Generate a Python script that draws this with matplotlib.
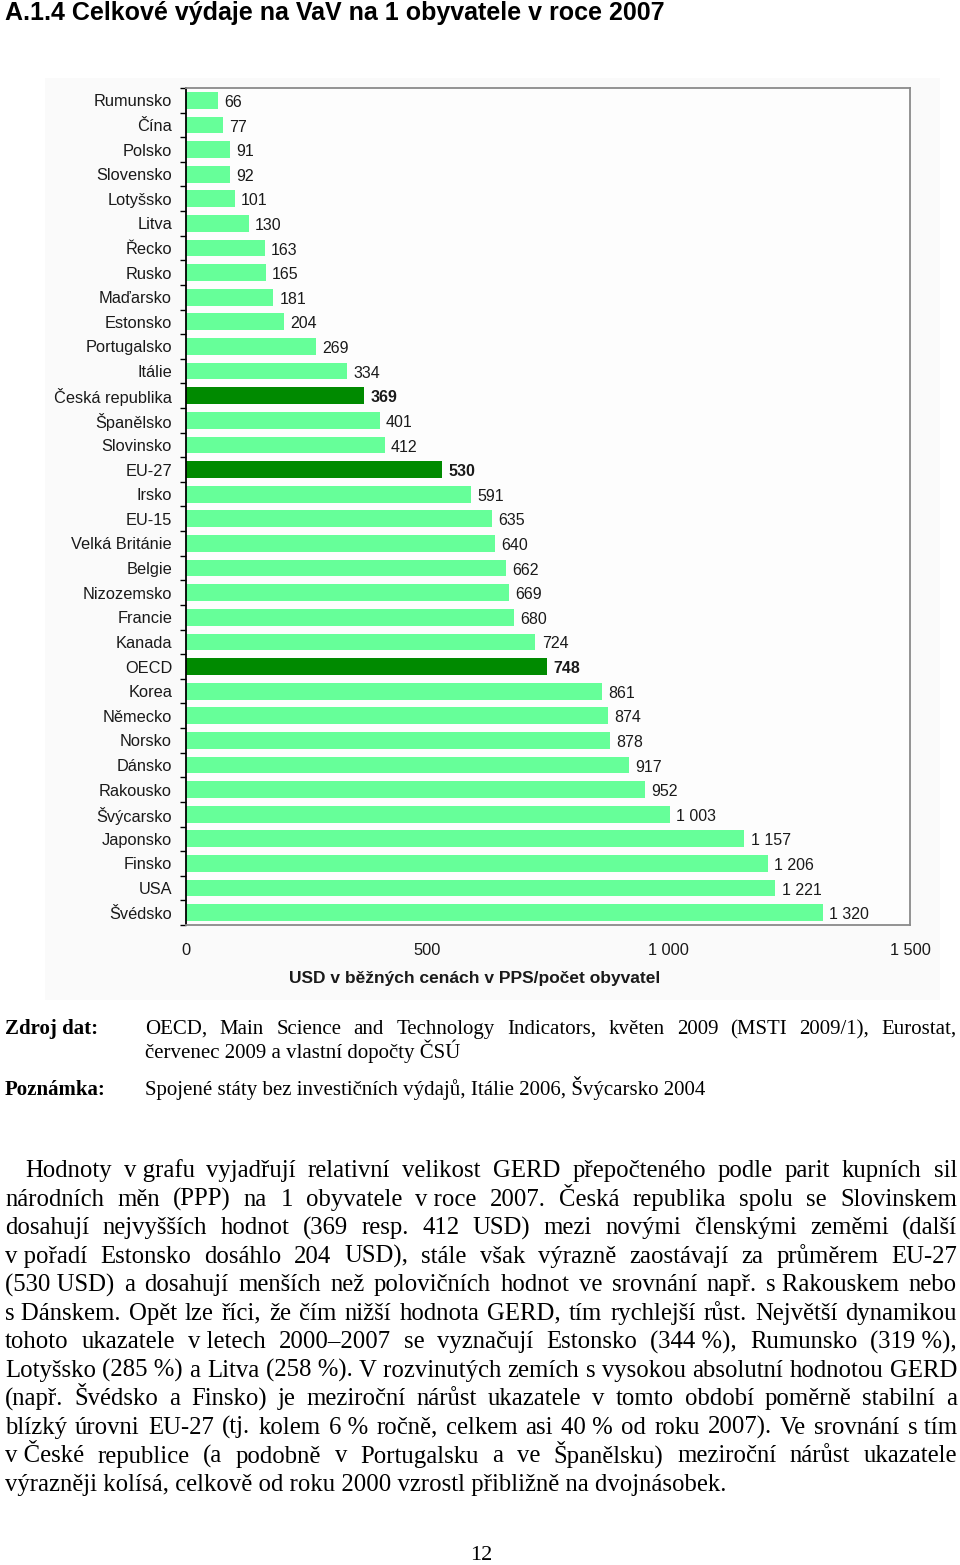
import numpy as np
import matplotlib.pyplot as plt
from matplotlib.patches import Rectangle

# data
countries = ['Rumunsko', 'Čína', 'Polsko', 'Slovensko', 'Lotyšsko', 'Litva', 'Řecko',
             'Rusko', 'Maďarsko', 'Estonsko', 'Portugalsko', 'Itálie', 'Česká republika',
             'Španělsko', 'Slovinsko', 'EU-27', 'Irsko', 'EU-15', 'Velká Británie', 'Belgie',
             'Nizozemsko', 'Francie', 'Kanada', 'OECD', 'Korea', 'Německo', 'Norsko',
             'Dánsko', 'Rakousko', 'Švýcarsko', 'Japonsko', 'Finsko', 'USA', 'Švédsko']
values = [66, 77, 91, 92, 101, 130, 163, 165, 181, 204, 269, 334, 369, 401, 412, 530,
          591, 635, 640, 662, 669, 680, 724, 748, 861, 874, 878, 917, 952, 1003,
          1157, 1206, 1221, 1320]
highlight = ['Česká republika', 'EU-27', 'OECD']
x_ticks = [0, 500, 1000, 1500]

title = 'A.1.4 Celkové výdaje na VaV na 1 obyvatele v roce 2007'
x_label = 'USD v běžných cenách v PPS/počet obyvatel'
source_lines = ['OECD, Main Science and Technology Indicators, květen 2009 (MSTI 2009/1), Eurostat,',
                'červenec 2009 a vlastní dopočty ČSÚ']
note_line = 'Spojené státy bez investičních výdajů, Itálie 2006, Švýcarsko 2004'
NB = '\u00a0'
body_lines = [
    f'Hodnoty v{NB}grafu vyjadřují relativní velikost GERD přepočteného podle parit kupních sil',
    f'národních měn (PPP) na 1 obyvatele v{NB}roce 2007. Česká republika spolu se Slovinskem',
    'dosahují nejvyšších hodnot (369 resp. 412 USD) mezi novými členskými zeměmi (další',
    f'v{NB}pořadí Estonsko dosáhlo 204 USD), stále však výrazně zaostávají za průměrem EU-27',
    f'(530{NB}USD) a dosahují menších než polovičních hodnot ve srovnání např. s{NB}Rakouskem nebo',
    f's{NB}Dánskem. Opět lze říci, že čím nižší hodnota GERD, tím rychlejší růst. Největší dynamikou',
    f'tohoto ukazatele v{NB}letech 2000–2007 se vyznačují Estonsko (344{NB}%), Rumunsko (319{NB}%),',
    f'Lotyšsko (285{NB}%) a Litva (258{NB}%). V{NB}rozvinutých zemích s{NB}vysokou absolutní hodnotou GERD',
    '(např. Švédsko a Finsko) je meziroční nárůst ukazatele v tomto období poměrně stabilní a',
    f'blízký úrovni EU-27 (tj. kolem 6{NB}% ročně, celkem asi 40{NB}% od roku 2007). Ve srovnání s{NB}tím',
    f'v{NB}České republice (a podobně v Portugalsku a ve Španělsku) meziroční nárůst ukazatele',
    'výrazněji kolísá, celkově od roku 2000 vzrostl přibližně na dvojnásobek.',
]

W, H = 960, 1565


def fx(x):
    return x / W


def fy(y):
    return 1 - y / H


def fmt(v):
    return f'{v:,}'.replace(',', ' ')


sans = ['Liberation Sans', 'DejaVu Sans']
serif = ['Liberation Serif', 'DejaVu Serif']

fig = plt.figure(figsize=(W / 100, H / 100), dpi=100)
renderer = fig.canvas.get_renderer()

# faint background of the embedded chart image
fig.patches.append(Rectangle((fx(45), fy(1000)), fx(940) - fx(45), (1000 - 78) / H,
                             transform=fig.transFigure, facecolor='#fafafa',
                             edgecolor='none', zorder=-5))

ax = fig.add_axes([fx(186), fy(925), fx(910) - fx(186), (925 - 88) / H])
ax.set_zorder(2)
ax.set_facecolor('#fdfdfd')
pos = np.arange(len(countries))
colors = ['#008a00' if c in highlight else '#66ff99' for c in countries]
bars = ax.barh(pos, values, height=0.68, color=colors, zorder=2)
for b, v, c in zip(bars, values, countries):
    ax.annotate(fmt(v), (b.get_width(), b.get_y() + b.get_height() / 2),
                xytext=(4.5, -1.5), textcoords='offset points', va='center', ha='left',
                fontsize=11.5, family=sans, color='#1a1a1a',
                fontweight='bold' if c in highlight else 'normal')

ax.set_xlim(0, 1500)
ax.set_ylim(len(countries) - 0.5, -0.5)
ax.set_yticks(pos, countries, fontsize=11.8, family=sans, color='#1a1a1a')
ax.set_yticks(np.arange(-0.5, len(countries), 1), minor=True)
ax.tick_params(axis='y', which='major', length=0, pad=10)
ax.tick_params(axis='y', which='minor', length=4, width=1, direction='out', color='black')
ax.set_xticks(x_ticks, [fmt(t) for t in x_ticks], fontsize=11.8, family=sans, color='#1a1a1a')
ax.tick_params(axis='x', length=0, pad=13)
for s in ['top', 'right', 'bottom']:
    ax.spines[s].set_color('#8a8a8a')
    ax.spines[s].set_linewidth(1.3)
ax.spines['left'].set_color('black')
ax.spines['left'].set_linewidth(1.3)

fig.text(fx(475), fy(978), x_label, ha='center', va='center', fontsize=12.5,
         fontweight='bold', family=sans, color='#1a1a1a')

fig.text(fx(5), fy(20), title, ha='left', va='baseline', fontsize=18,
         fontweight='bold', family=sans)


def justify(line, x0, x1, y, size, last=False, min_gap=4):
    # y is the baseline in pixels
    if last:
        fig.text(fx(x0), fy(y), line, fontsize=size, family=serif, va='baseline', ha='left')
        return
    words = line.split(' ')
    texts = [fig.text(0, fy(y), w, fontsize=size, family=serif, va='baseline', ha='left')
             for w in words]
    widths = [t.get_window_extent(renderer).width for t in texts]
    room = x1 - x0 - min_gap * (len(words) - 1)
    if sum(widths) > room:
        k = room / sum(widths)
        for t in texts:
            t.set_fontsize(size * k)
        widths = [w * k for w in widths]
    gap = (x1 - x0 - sum(widths)) / max(len(words) - 1, 1)
    x = x0
    for t, w in zip(texts, widths):
        t.set_x(fx(x))
        x += w + gap


# source and note block
fig.text(fx(5), fy(1034), 'Zdroj dat:', fontsize=15, fontweight='bold', family=serif,
         va='baseline')
justify(source_lines[0], 145, 957, 1034, 15)
justify(source_lines[1], 145, 957, 1058, 15, last=True)
fig.text(fx(5), fy(1095), 'Poznámka:', fontsize=15, fontweight='bold', family=serif,
         va='baseline')
justify(note_line, 145, 957, 1095, 15, last=True)

# body paragraph
for i, line in enumerate(body_lines):
    y = 1177 + i * 28.55
    x0 = 25 if i == 0 else 5
    justify(line, x0, 957, y, 17.8, last=(i == len(body_lines) - 1))

fig.text(fx(481), fy(1560), '12', ha='center', va='baseline', fontsize=16, family=serif)

fig.savefig('out.png', dpi=100)
